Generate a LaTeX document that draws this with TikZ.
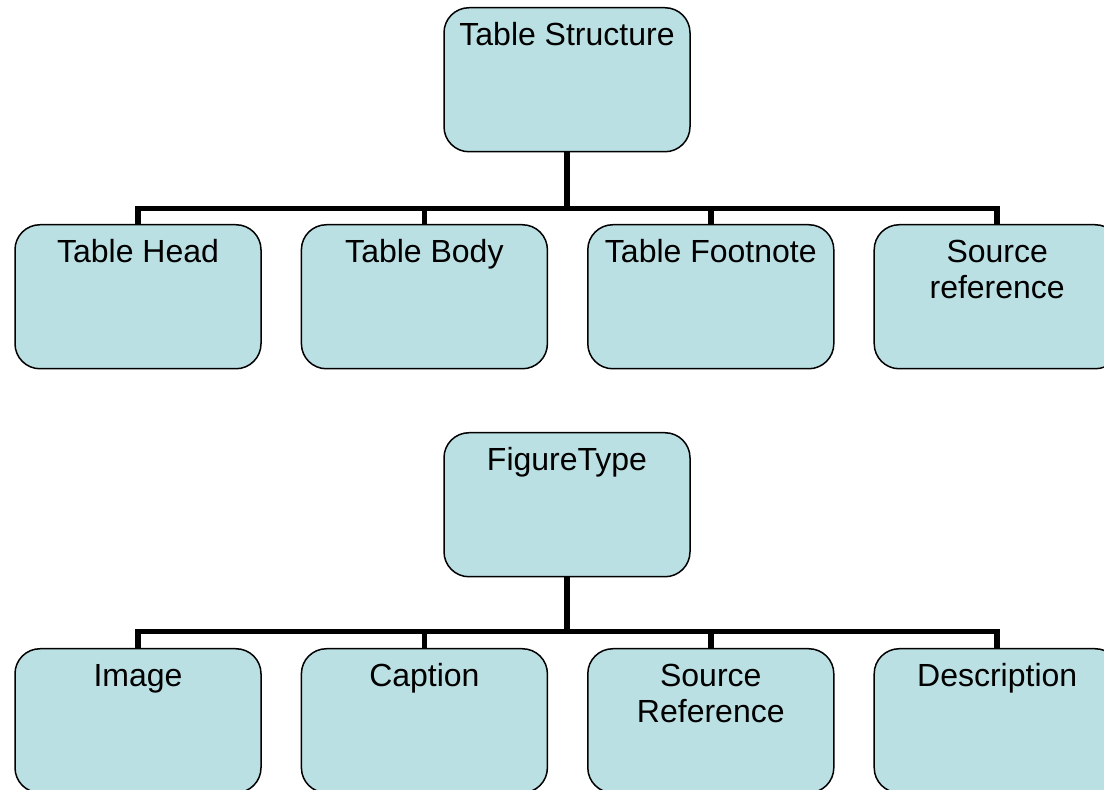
\documentclass[tikz,border=0pt]{standalone}
\usepackage{fontspec}
\setmainfont{Liberation Sans}
\definecolor{boxfill}{RGB}{187,224,227}
\tikzset{
  box/.style={draw=black, line width=1.5pt, fill=boxfill, rounded corners=25pt,
    anchor=north, inner xsep=5pt, inner ysep=13pt,
    font=\fontsize{32}{35.5}\selectfont,
    execute at begin node={\begin{minipage}[t][118pt][t]{236pt}\centering\strut},
    execute at end node={\end{minipage}}},
  link/.style={line width=5.5pt}
}
\begin{document}
\begin{tikzpicture}[x=1pt, y=1pt]

\useasboundingbox (0,0) rectangle (1104,790);

% table part
\node[box] (tab) at (567,783) {Table Structure};
\draw[link] (tab.south) -- ++(0,-56) coordinate (tabbar);

\foreach \name/\txt [count=\i] in {thead/Table Head, tbody/Table Body,
  tfoot/Table Footnote, tsrc/{Source\\reference}}
{
   \node[box] (\name) at (138+286.4*\i-286.4,566) {\txt};
   \draw[link] (tabbar) -| (\name.north);
}

% figure part
\node[box] (fig) at (567,358) {FigureType};
\draw[link] (fig.south) -- ++(0,-54) coordinate (figbar);

\foreach \name/\txt [count=\i] in {fimg/Image, fcap/Caption,
  fsrc/{Source\\Reference}, fdesc/Description}
{
   \node[box] (\name) at (138+286.4*\i-286.4,142) {\txt};
   \draw[link] (figbar) -| (\name.north);
}

\end{tikzpicture}
\end{document}
